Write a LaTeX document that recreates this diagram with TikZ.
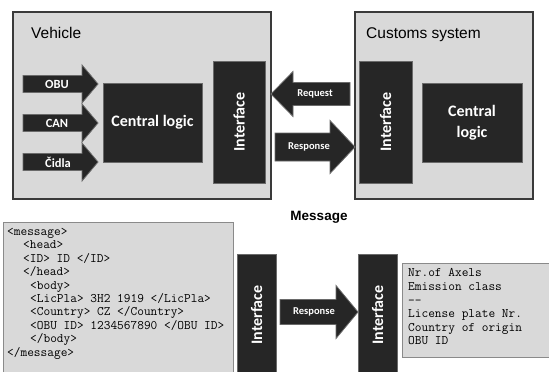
\documentclass[tikz,border=0pt]{standalone}
\usepackage{fontspec}
\setmainfont{Liberation Sans}
\newfontfamily\carl{Carlito}
\definecolor{boxfill}{HTML}{D9D9D9}
\definecolor{boxline}{HTML}{3A3A3A}
\definecolor{lowline}{HTML}{8A8A8A}
\definecolor{darkfill}{HTML}{262626}
\definecolor{darkline}{HTML}{6A6A6A}
\tikzset{
  outerbox/.style={draw=boxline, line width=1.3pt, fill=boxfill},
  lowbox/.style={draw=lowline, line width=0.9pt, fill=boxfill},
  darkbox/.style={draw=darkline, line width=1pt, fill=darkfill, inner sep=0pt, outer sep=0pt},
  darktext/.style={text=white, font=\carl\bfseries\fontsize{16}{20}\selectfont, align=center},
  blockarr/.style={draw=darkline, line width=0.8pt, fill=darkfill},
  arrlabel/.style={text=white, font=\carl\bfseries\fontsize{12.5}{14}\selectfont, inner sep=0pt},
  smalllabel/.style={text=white, font=\carl\bfseries\fontsize{10.5}{12}\selectfont, inner sep=0pt},
  title/.style={font=\fontsize{15.5}{18}\selectfont, inner sep=0pt, anchor=base west},
  code/.style={font=\ttfamily\addfontfeature{FakeBold=0.6}\fontsize{13}{13.4}\selectfont, align=left, inner sep=0pt, anchor=north west}
}
% tail x, head-base x, tip x, centre y, shaft half, head half
\newcommand\blkarrow[6]{%
  \draw[blockarr] ({#1},{#4-#5}) -- ({#2},{#4-#5}) -- ({#2},{#4-#6}) -- ({#3},{#4})
    -- ({#2},{#4+#6}) -- ({#2},{#4+#5}) -- ({#1},{#4+#5}) -- cycle;}
\begin{document}
\begin{tikzpicture}[x=1pt,y=-1pt]
\useasboundingbox (0,0) rectangle (549,372);
\clip (0,0) rectangle (549,372);
\fill[white] (0,0) rectangle (549,372);

% outer boxes
\draw[outerbox] (13,12) rectangle (271,199);
\draw[outerbox] (355,12) rectangle (533,199);
\node[title] (vtitle) at (31,38) {Vehicle};
\node[title] (ctitle) at (366,38) {Customs system};

% vehicle inner blocks
\node[darkbox, minimum width=99pt, minimum height=79pt, anchor=north west] (vcl) at (103,83) {};
\node[darktext] at (vcl.center) {Central logic};
\node[darkbox, minimum width=52pt, minimum height=122pt, anchor=north west] (vif) at (213,61) {};
\node[darktext, rotate=90] at (vif.center) {Interface};

% input arrows
\blkarrow{23}{82}{98}{84}{8.5}{19}
\node[arrlabel] (obu) at (57,84) {OBU};
\blkarrow{23}{82}{98}{123}{8.5}{19}
\node[arrlabel] (can) at (57,123) {CAN};
\blkarrow{23}{82}{98}{162}{8.5}{19}
\node[arrlabel] (cidla) at (58,162) {Čidla};

% customs inner blocks
\node[darkbox, minimum width=53pt, minimum height=122pt, anchor=north west] (cif) at (359,61) {};
\node[darktext, rotate=90] at (cif.center) {Interface};
\node[darkbox, minimum width=100pt, minimum height=79pt, anchor=north west] (ccl) at (422,83) {};
\node[darktext, font=\carl\bfseries\fontsize{16}{21}\selectfont] at (ccl.center) {Central\\logic};

% request / response
\blkarrow{350}{293}{271}{94}{11.5}{22.5}
\node[smalllabel] (req) at (315,94) {Request};
\blkarrow{275}{330}{355}{147}{14}{26.5}
\node[smalllabel] (resp) at (309,147) {Response};

% message
\node[font=\bfseries\fontsize{13.5}{16}\selectfont, inner sep=0pt] (msg) at (319,217) {Message};

% lower part
\draw[lowbox] (3,400) -- (3,222) -- (233,222) -- (233,400);
\node[code] (xml) at (7,228) {<message>\\
\hspace*{16pt}<head>\\
\hspace*{16pt}<ID> ID </ID>\\
\hspace*{16pt}</head>\\
\hspace*{23pt}<body>\\
\hspace*{23pt}<LicPla> 3H2 1919 </LicPla>\\
\hspace*{23pt}<Country> CZ </Country>\\
\hspace*{23pt}<OBU ID> 1234567890 </OBU ID>\\
\hspace*{23pt}</body>\\
</message>};

\node[darkbox, minimum width=39pt, minimum height=140pt, anchor=north west] (lif1) at (237,254) {};
\node[darktext, rotate=90] at (256.5,315) {Interface};
\node[darkbox, minimum width=39pt, minimum height=140pt, anchor=north west] (lif2) at (358,254) {};
\node[darktext, rotate=90] at (377.5,315) {Interface};
\blkarrow{280}{336}{358}{312}{12.5}{26.5}
\node[smalllabel] (lresp) at (314,312) {Response};

\draw[lowbox] (560,263) -- (402,263) -- (402,357) -- (560,357);
\node[code, font=\ttfamily\addfontfeature{FakeBold=0.6}\fontsize{13}{13.6}\selectfont] (info) at (408,268.5) {Nr.of Axels\\
Emission class\\
--\\
License plate Nr.\\
Country of origin\\
OBU ID};
\end{tikzpicture}
\end{document}
